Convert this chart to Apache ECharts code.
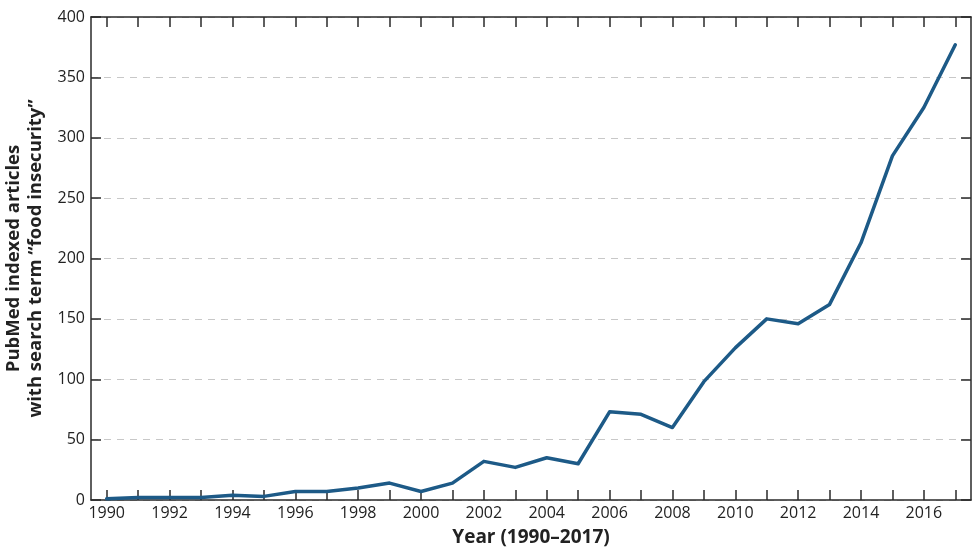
<!DOCTYPE html>
<html>
<head>
<meta charset="utf-8">
<script src="https://cdn.jsdelivr.net/npm/echarts@6/dist/echarts.min.js"></script>
<style>
  html, body { margin: 0; padding: 0; background: #fff; }
  #chart { width: 973px; height: 551px; }
</style>
</head>
<body>
<div id="chart"></div>
<script>
  const years = ['1990', '1991', '1992', '1993', '1994', '1995', '1996', '1997', '1998', '1999',
    '2000', '2001', '2002', '2003', '2004', '2005', '2006', '2007', '2008', '2009',
    '2010', '2011', '2012', '2013', '2014', '2015', '2016', '2017']
  const articles = [1, 2, 2, 2, 4, 3, 7, 7, 10, 14,
    7, 14, 32, 27, 35, 30, 73, 71, 60, 98,
    126, 150, 146, 162, 213, 285, 325, 377]
  const yTicks = [0, 50, 100, 150, 200, 250, 300, 350, 400]

  const axisColor = '#2a2a2a'
  const font = 'Open Sans'

  const chart = echarts.init(document.getElementById('chart'))

  // shared look for the bottom/top and left/right frame axes
  const xBase = {
    type: 'category',
    data: years,
    boundaryGap: true,
    axisLine: { show: true, onZero: false, lineStyle: { color: axisColor, width: 1.5 } },
    axisTick: { show: true, inside: true, interval: 0, alignWithLabel: true, length: 10, lineStyle: { color: axisColor, width: 1.5 } },
    splitLine: { show: false },
  }
  const yBase = {
    type: 'value',
    min: yTicks[0],
    max: yTicks[yTicks.length - 1],
    interval: 50,
    axisLine: { show: true, onZero: false, lineStyle: { color: axisColor, width: 1.5 } },
    axisTick: { show: true, inside: true, length: 10, lineStyle: { color: axisColor, width: 1.5 } },
  }

  chart.setOption({
    animation: false,
    grid: { left: 91, right: 2, top: 17, bottom: 51, containLabel: false, outerBoundsMode: 'none' },
    xAxis: [
      {
        ...xBase,
        position: 'bottom',
        name: 'Year (1990–2017)',
        nameLocation: 'middle',
        nameGap: 28,
        nameTextStyle: { fontFamily: font, fontSize: 19, fontWeight: 'bold', color: '#222' },
        axisLabel: { interval: 1, fontFamily: font, fontSize: 16, color: '#222', margin: 5 },
      },
      {
        ...xBase,
        position: 'top',
        axisLabel: { show: false },
      },
    ],
    yAxis: [
      {
        ...yBase,
        position: 'left',
        name: 'PubMed indexed articles\nwith search term “food insecurity”',
        nameLocation: 'middle',
        nameRotate: 90,
        nameGap: 44,
        nameTextStyle: { fontFamily: font, fontSize: 18.5, fontWeight: 'bold', color: '#222', lineHeight: 22 },
        axisLabel: { fontFamily: font, fontSize: 16, color: '#222', margin: 6 },
        splitLine: { show: true, lineStyle: { color: '#c8c8c8', type: [7, 6], width: 1 } },
      },
      {
        ...yBase,
        position: 'right',
        axisLabel: { show: false },
        splitLine: { show: false },
      },
    ],
    series: [
      {
        type: 'line',
        data: articles,
        symbol: 'none',
        lineStyle: { color: '#1d5a87', width: 3.5, cap: 'round', join: 'round' },
        z: 5,
      },
    ],
  })
</script>
</body>
</html>
